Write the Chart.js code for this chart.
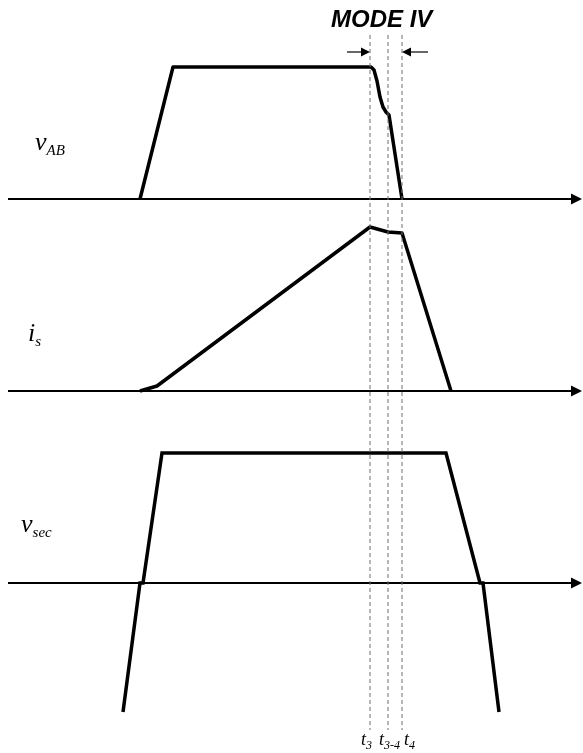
<!DOCTYPE html>
<html>
<head>
<meta charset="utf-8">
<script src="https://cdn.jsdelivr.net/npm/chart.js@4.4.1/dist/chart.umd.min.js"></script>
<style>
  html, body { margin: 0; padding: 0; background: #fff; }
  canvas { display: block; }
</style>
</head>
<body>
<canvas id="modos" width="583" height="753"></canvas>
<script>
// eixo de tempo comum e linhas de base de cada forma de onda
const axisStart = 8;
const axisEnd = 582;
const baseVab = 199;
const baseIs = 391;
const baseVsec = 583;

// v_AB: tempo e amplitude (acima da base)
const vabTime = [140, 173, 371, 374, 377, 380, 383, 386, 389, 402];
const vabAmp = [0, 132, 132, 129, 118, 102, 92, 87, 84, 0];

// i_s
const isTime = [140, 157, 370, 388, 402, 451];
const isAmp = [0, 5, 164, 159, 158, 0];

// v_sec
const vsecTime = [123, 140, 143, 162, 446, 480, 483, 499];
const vsecAmp = [-129, 0, 0, 130, 130, 0, 0, -129];

// instantes t3, t3-4, t4 e a posicao do rotulo de cada um
const instTime = [370, 388, 402];
const instLabel = [["t", "3"], ["t", "3-4"], ["t", "4"]];
const instLabelX = [361, 379, 404];
const dashTop = 35;
const dashBottom = 730;

function wave(times, amps, base) {
    return times.map((t, i) => ({ x: t, y: base - amps[i] }));
}

function eixo(base) {
    return [{ x: axisStart, y: base }, { x: axisEnd - 8, y: base }];
}

const traco = { showLine: true, pointRadius: 0, borderColor: "#000", fill: false, tension: 0 };

const datasets = [
    { ...traco, data: eixo(baseVab), borderWidth: 2 },
    { ...traco, data: eixo(baseIs), borderWidth: 2 },
    { ...traco, data: eixo(baseVsec), borderWidth: 2 },
    { ...traco, data: wave(vabTime, vabAmp, baseVab), borderWidth: 3.5, borderJoinStyle: "round" },
    { ...traco, data: wave(isTime, isAmp, baseIs), borderWidth: 3.5, borderJoinStyle: "round" },
    { ...traco, data: wave(vsecTime, vsecAmp, baseVsec), borderWidth: 3.5, borderJoinStyle: "miter" }
];

instTime.forEach(t => {
    datasets.unshift({
        ...traco,
        data: [{ x: t, y: dashTop }, { x: t, y: dashBottom }],
        borderWidth: 1,
        borderColor: "#6f6f6f",
        borderDash: [4, 3]
    });
});

// setas indicando o intervalo do modo IV
const setaY = 52;
datasets.push({ ...traco, data: [{ x: 347, y: setaY }, { x: 362, y: setaY }], borderWidth: 1.2 });
datasets.push({ ...traco, data: [{ x: 410, y: setaY }, { x: 428, y: setaY }], borderWidth: 1.2 });

function ponta(ctx, x, y, dir, comp, meia) {
    ctx.beginPath();
    ctx.moveTo(x, y);
    ctx.lineTo(x - dir * comp, y - meia);
    ctx.lineTo(x - dir * comp, y + meia);
    ctx.closePath();
    ctx.fill();
}

function rotulo(ctx, x, y, principal, sub, tam, tamSub) {
    ctx.font = `italic ${tam}px "Liberation Serif", "DejaVu Serif", serif`;
    ctx.fillText(principal, x, y);
    const w = ctx.measureText(principal).width;
    ctx.font = `italic ${tamSub}px "Liberation Serif", "DejaVu Serif", serif`;
    ctx.fillText(sub, x + w, y + tamSub * 0.3);
}

const anotacoes = {
    id: "anotacoes",
    afterDraw(chart) {
        const ctx = chart.ctx;
        const sx = chart.scales.x;
        const sy = chart.scales.y;
        const px = v => sx.getPixelForValue(v);
        const py = v => sy.getPixelForValue(v);
        ctx.save();
        ctx.fillStyle = "#000";

        // pontas dos eixos
        [baseVab, baseIs, baseVsec].forEach(b => ponta(ctx, px(axisEnd), py(b), 1, 11, 5.5));
        // pontas das setas do modo
        ponta(ctx, px(370), py(setaY), 1, 9, 4.5);
        ponta(ctx, px(402), py(setaY), -1, 9, 4.5);

        ctx.textBaseline = "alphabetic";
        ctx.textAlign = "left";
        ctx.font = 'italic bold 24px "Liberation Sans", Arial, sans-serif';
        ctx.fillText("MODE IV", px(331), py(27));

        rotulo(ctx, px(35), py(150), "v", "AB", 26, 15);
        rotulo(ctx, px(28), py(341), "i", "s", 26, 15);
        rotulo(ctx, px(21), py(532), "v", "sec", 26, 15);

        instTime.forEach((t, i) => {
            const [p, s] = instLabel[i];
            rotulo(ctx, px(instLabelX[i]), py(745), p, s, 18, 12);
        });
        ctx.restore();
    }
};

new Chart(document.getElementById("modos").getContext("2d"), {
    type: "scatter",
    data: { datasets },
    options: {
        responsive: false,
        animation: false,
        layout: { padding: 0 },
        plugins: { legend: { display: false }, tooltip: { enabled: false } },
        scales: {
            x: { type: "linear", min: 0, max: 583, display: false },
            y: { type: "linear", min: 0, max: 753, reverse: true, display: false }
        }
    },
    plugins: [anotacoes]
});
</script>
</body>
</html>
